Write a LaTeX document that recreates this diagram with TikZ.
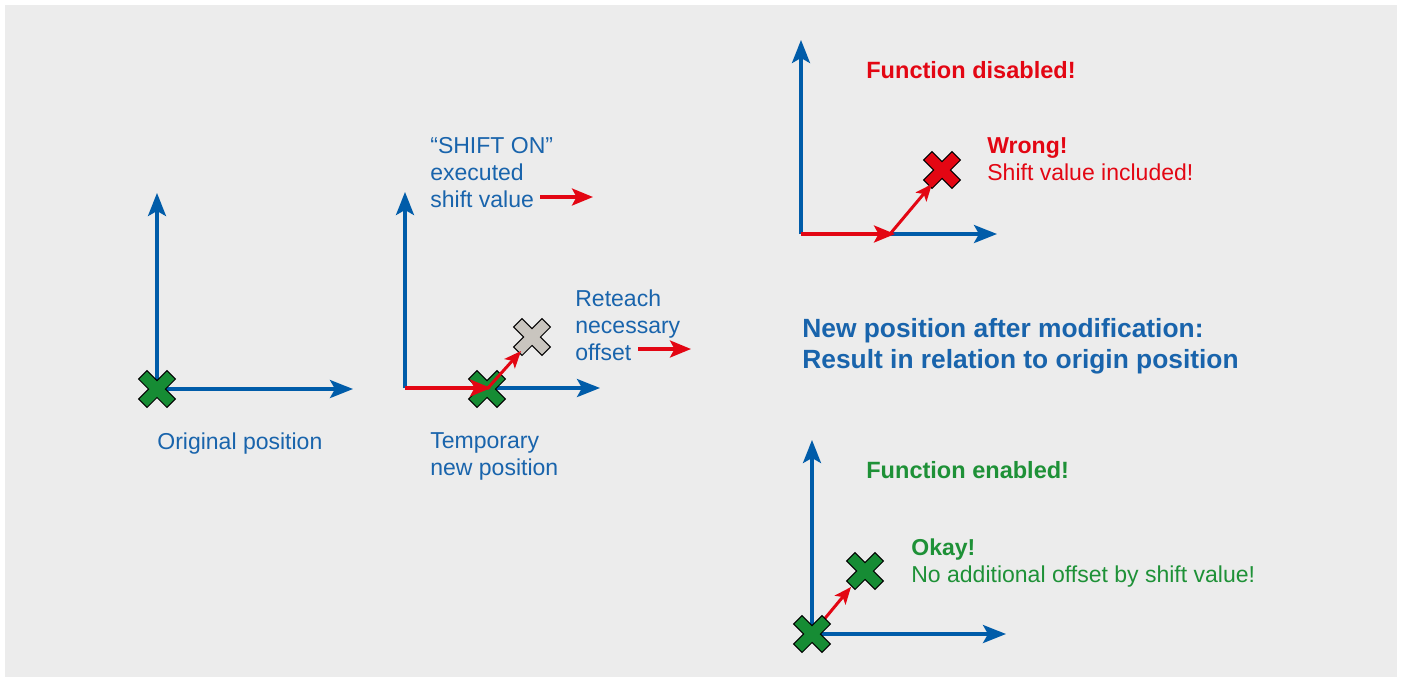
\documentclass[tikz,border=0pt]{standalone}
\usepackage{fontspec}
\setmainfont{Liberation Sans}
\usetikzlibrary{arrows.meta}
\definecolor{bggray}{RGB}{236,236,236}
\definecolor{axisblue}{RGB}{0,92,169}
\definecolor{textblue}{RGB}{25,100,172}
\definecolor{shiftred}{RGB}{227,6,19}
\definecolor{markgreen}{RGB}{22,140,52}
\definecolor{textgreen}{RGB}{30,145,55}
\definecolor{markgray}{RGB}{201,197,191}
\tikzset{xmark/.pic={
  \path[pic actions, draw=black, line width=0.6pt, rotate=45]
    (20,-6) -- (20,6) -- (6,6) -- (6,20) -- (-6,20) -- (-6,6) -- (-20,6) -- (-20,-6)
    -- (-6,-6) -- (-6,-20) -- (6,-20) -- (6,-6) -- cycle;
}}

\begin{document}
\begin{tikzpicture}[x=0.02cm, y=-0.02cm]
\tikzstyle{axis}=[draw=axisblue, line width=1.9pt, -{Stealth[length=0.46cm, width=0.36cm, inset=0.1cm]}]
\tikzstyle{shiftarrow}=[draw=shiftred, line width=1.8pt, -{Stealth[length=0.42cm, width=0.34cm, inset=0.09cm]}]
\tikzstyle{offsarrow}=[draw=shiftred, line width=1.7pt, -{Stealth[length=0.34cm, width=0.28cm, inset=0.08cm]}]
\tikzstyle{lbl}=[inner sep=0pt, text=textblue, align=left, anchor=north west, font=\fontsize{13.1}{15.4}\selectfont]
\tikzstyle{head}=[inner sep=0pt, anchor=west, font=\bfseries\fontsize{13.4}{16}\selectfont]

  \useasboundingbox (0,0) rectangle (1401,681);
  \fill[bggray] (5,5) rectangle (1397,677);

  % original position
  \coordinate (o1) at (157,389);
  \coordinate (y1) at (157,193);
  \coordinate (x1) at (353,389);
  \draw[axis] (o1) -- (y1);
  \draw[axis] (o1) -- (x1);
  \pic[fill=markgreen] at (o1) {xmark};
  \node[lbl] (orig) at (157,432) {Original position};

  % temporary new position
  \coordinate (o2) at (405,388);
  \coordinate (y2) at (405,192);
  \coordinate (x2) at (600,388);
  \coordinate (tmp) at (487,389);
  \coordinate (tmptip) at (491,388);
  \coordinate (reteach) at (532,337);
  \coordinate (reteachtip) at (521,351);
  \draw[axis] (o2) -- (y2);
  \draw[axis] (o2) -- (x2);
  \pic[fill=markgray] at (reteach) {xmark};
  \pic[fill=markgreen] at (tmp) {xmark};
  \draw[shiftarrow] (o2) -- (tmptip);
  \draw[offsarrow] (tmp) -- (reteachtip);
  \node[lbl] (shifton) at (430,137) {“SHIFT ON”\\executed\\shift value};
  \coordinate (sva) at (540,197);
  \coordinate (svb) at (593,197);
  \draw[shiftarrow] (sva) -- (svb);
  \node[lbl] (reteachlbl) at (575,289) {Reteach\\necessary\\offset};
  \coordinate (ofa) at (638,349);
  \coordinate (ofb) at (691,349);
  \draw[shiftarrow] (ofa) -- (ofb);
  \node[lbl] (temp) at (430,432) {Temporary\\new position};

  % function disabled
  \coordinate (o3) at (801,234);
  \coordinate (y3) at (801,40);
  \coordinate (x3) at (997,234);
  \coordinate (s3) at (890,234);
  \coordinate (s3tip) at (895,234);
  \coordinate (wrong) at (942,170);
  \coordinate (wrongtip) at (932,184);
  \draw[axis] (o3) -- (y3);
  \draw[axis] (o3) -- (x3);
  \draw[shiftarrow] (o3) -- (s3tip);
  \pic[fill=shiftred] at (wrong) {xmark};
  \draw[offsarrow] (s3) -- (wrongtip);
  \node[head, text=shiftred] (disabled) at (866,70) {Function disabled!};
  \node[lbl, text=shiftred] (wronglbl) at (987,137) {\textbf{Wrong!}\\Shift value included!};

  % result
  \node[lbl, font=\bfseries\fontsize{15}{17.6}\selectfont] (result) at (802,318)
    {New position after modification:\\Result in relation to origin position};

  % function enabled
  \coordinate (o4) at (812,634);
  \coordinate (y4) at (812,440);
  \coordinate (x4) at (1006,634);
  \coordinate (okay) at (865,571);
  \coordinate (okaytip) at (851,587);
  \draw[axis] (o4) -- (y4);
  \draw[axis] (o4) -- (x4);
  \draw[offsarrow] (o4) -- (okaytip);
  \pic[fill=markgreen] at (okay) {xmark};
  \pic[fill=markgreen] at (o4) {xmark};
  \node[head, text=textgreen] (enabled) at (866,470) {Function enabled!};
  \node[lbl, text=textgreen] (okaylbl) at (911,538) {\textbf{Okay!}\\No additional offset by shift value!};

\end{tikzpicture}
\end{document}
